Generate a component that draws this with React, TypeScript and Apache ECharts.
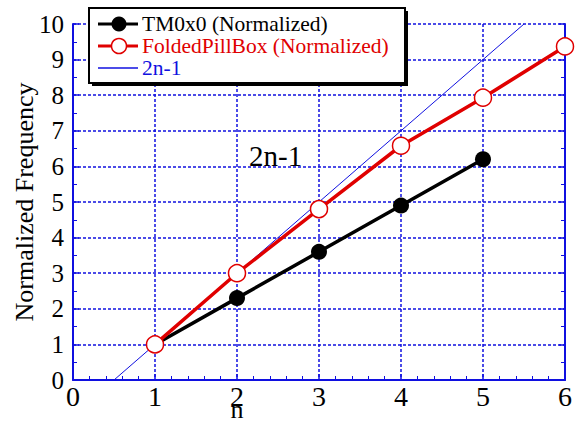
import React, { useEffect, useRef } from "react";
import * as echarts from "echarts";

const tm0x0X = [1, 2, 3, 4, 5];
const tm0x0Y = [1, 2.3, 3.6, 4.9, 6.2];
const foldedX = [1, 2, 3, 4, 5, 6];
const foldedY = [1, 3, 4.8, 6.58, 7.93, 9.37];
const refX = [0.5, 5.5];
const refY = [0, 10];
const seriesNames = ["TM0x0 (Normalized)", "FoldedPillBox (Normalized)", "2n-1"];

const FONT = "Times New Roman, Liberation Serif, DejaVu Serif, serif";
const BLUE = "#1010e0";

export default function App() {
  const ref = useRef<HTMLDivElement>(null);
  useEffect(() => {
    const chart = echarts.init(ref.current!, null, { renderer: "svg" });
    const zip = (xs: number[], ys: number[]) => xs.map((x, i) => [x, ys[i]]);
    const axisCommon = {
      axisLine: { show: true, lineStyle: { color: BLUE, width: 2 } },
      axisTick: { show: true, inside: true, length: 6, lineStyle: { color: BLUE, width: 1.5 } },
      minorTick: { show: true, length: 4, lineStyle: { color: BLUE, width: 1 } },
      splitLine: { show: true, lineStyle: { color: BLUE, type: [3, 2], width: 1.5 } },
      axisLabel: { color: "#000", fontFamily: FONT, fontSize: 25 },
    };
    const legendRowY = [24, 46, 68];
    const legendGraphic: any[] = [
      { type: "rect", z: 100, shape: { x: 92, y: 11, width: 316, height: 75 }, style: { fill: "#000" } },
      { type: "rect", z: 101, shape: { x: 89, y: 8, width: 316, height: 75 }, style: { fill: "#fff", stroke: "#000", lineWidth: 2 } },
      { type: "line", z: 102, shape: { x1: 98, y1: legendRowY[0], x2: 138, y2: legendRowY[0] }, style: { stroke: "#000", lineWidth: 3 } },
      { type: "circle", z: 103, shape: { cx: 119, cy: legendRowY[0], r: 7.5 }, style: { fill: "#000" } },
      { type: "line", z: 102, shape: { x1: 98, y1: legendRowY[1], x2: 138, y2: legendRowY[1] }, style: { stroke: "#e00000", lineWidth: 3 } },
      { type: "circle", z: 103, shape: { cx: 119, cy: legendRowY[1], r: 7.5 }, style: { fill: "#fff", stroke: "#e00000", lineWidth: 1.5 } },
      { type: "line", z: 102, shape: { x1: 98, y1: legendRowY[2], x2: 138, y2: legendRowY[2] }, style: { stroke: BLUE, lineWidth: 1.5 } },
    ];
    const legendColors = ["#000", "#e00000", BLUE];
    seriesNames.forEach((n, i) => {
      legendGraphic.push({
        type: "text",
        z: 104,
        x: 142,
        y: legendRowY[i],
        style: { text: n, fill: legendColors[i], fontSize: 21.5, lineHeight: 21, fontFamily: FONT, verticalAlign: "middle" },
      });
    });
    legendGraphic.push({
      type: "text",
      z: 104,
      x: 249,
      y: 156,
      style: { text: "2n-1", fill: "#000", fontSize: 29, fontFamily: FONT, verticalAlign: "middle" },
    });

    chart.setOption({
      animation: false,
      textStyle: { fontFamily: FONT },
      grid: { left: 73, right: 14, top: 24, bottom: 41, containLabel: false, outerBoundsMode: "none" },
      xAxis: {
        type: "value",
        min: 0,
        max: 6,
        interval: 1,
        name: "n",
        nameLocation: "middle",
        nameMoveOverlap: false,
        nameGap: 19,
        nameTextStyle: { color: "#000", fontFamily: FONT, fontSize: 26, lineHeight: 20, padding: [0, 164, 0, 0] },
        ...axisCommon,
        minorTick: { ...axisCommon.minorTick, splitNumber: 5 },
        axisLabel: { ...axisCommon.axisLabel, fontSize: 28, margin: 2 },
      },
      yAxis: [
        {
          type: "value",
          min: 0,
          max: 10,
          interval: 1,
          name: "Normalized Frequency",
          nameLocation: "middle",
          nameMoveOverlap: false,
          nameGap: 36,
          nameTextStyle: { color: "#000", fontFamily: FONT, fontSize: 26 },
          ...axisCommon,
          minorTick: { ...axisCommon.minorTick, splitNumber: 2 },
          axisLabel: { ...axisCommon.axisLabel, margin: 9 },
        },
        {
          type: "value",
          min: 0,
          max: 10,
          interval: 1,
          position: "right",
          axisLine: { show: true, lineStyle: { color: BLUE, width: 2 } },
          axisTick: { show: true, inside: true, length: 6, lineStyle: { color: BLUE, width: 1.5 } },
          minorTick: { show: true, splitNumber: 2, length: 4, lineStyle: { color: BLUE, width: 1 } },
          splitLine: { show: false },
          axisLabel: { show: false },
        },
      ],
      graphic: legendGraphic,
      series: [
        {
          name: seriesNames[2],
          type: "line",
          data: zip(refX, refY),
          showSymbol: false,
          symbol: "none",
          lineStyle: { color: BLUE, width: 1 },
          z: 3,
        },
        {
          name: seriesNames[0],
          type: "line",
          data: zip(tm0x0X, tm0x0Y),
          symbol: "circle",
          symbolSize: 16,
          itemStyle: { color: "#000" },
          lineStyle: { color: "#000", width: 3.5 },
          z: 4,
        },
        {
          name: seriesNames[1],
          type: "line",
          data: zip(foldedX, foldedY),
          symbol: "circle",
          symbolSize: 17,
          itemStyle: { color: "#fff", borderColor: "#e00000", borderWidth: 1.5 },
          lineStyle: { color: "#e00000", width: 3.5 },
          z: 5,
        },
      ],
    });
    return () => chart.dispose();
  }, []);
  return <div ref={ref} style={{ width: 579, height: 421, position: "absolute", left: 0, top: 0, background: "#fff" }} />;
}
